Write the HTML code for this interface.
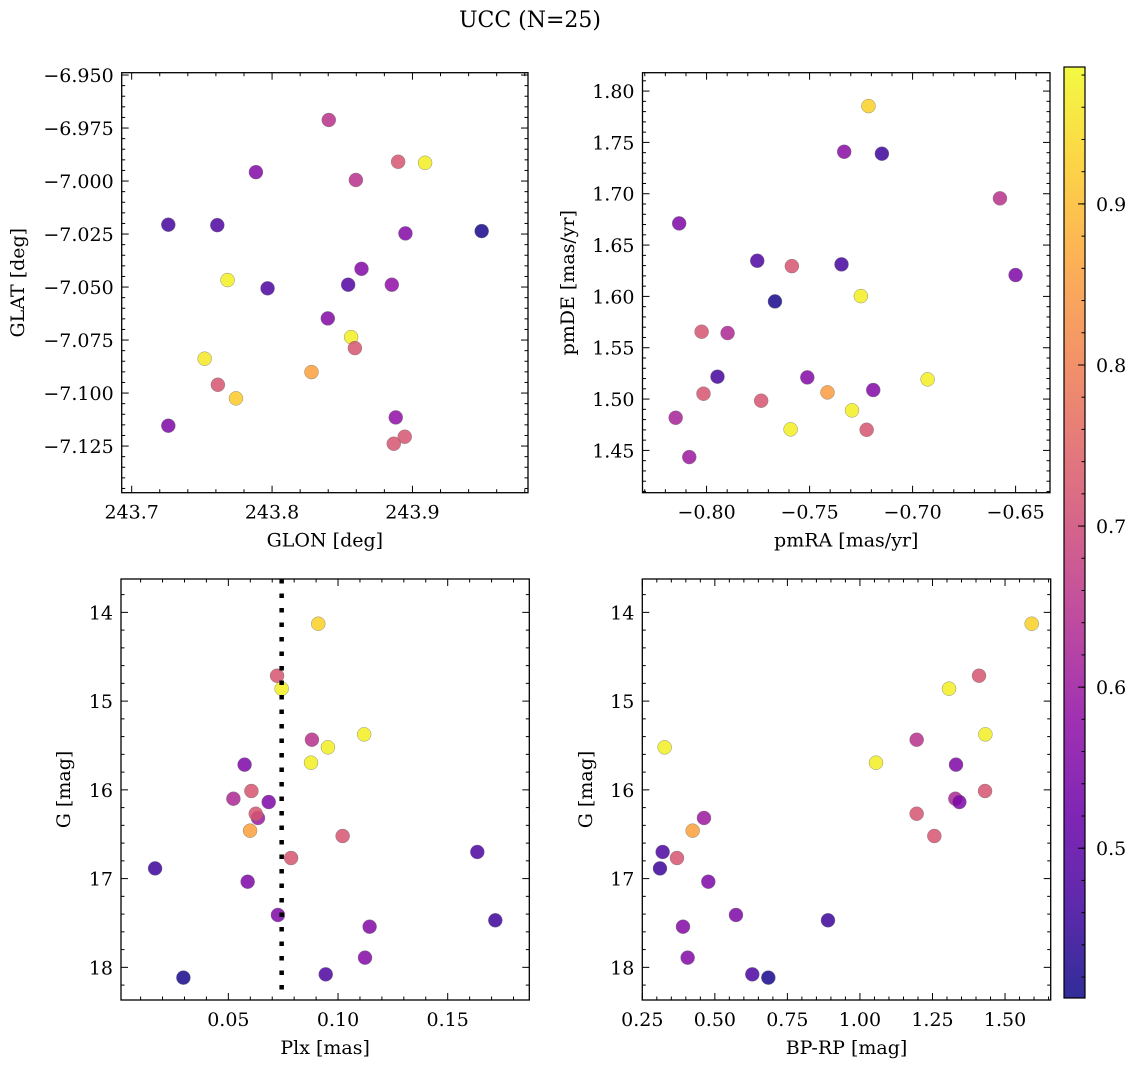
<!DOCTYPE html>
<html><head><meta charset="utf-8"><style>
html,body{margin:0;padding:0;background:#fff;}
svg{display:block;font-family:"DejaVu Serif","Liberation Serif",serif;}
</style></head><body>
<svg id="fig" width="1136" height="1067" viewBox="0 0 1136 1067" xmlns="http://www.w3.org/2000/svg">
<text x="530" y="27" font-size="22" text-anchor="middle">UCC (N=25)</text>
</svg>
<script>
// ---- Top-left: GLON / GLAT
const glon = [243.8404,243.8898,243.9090,243.7885,243.8597,243.7261,243.7610,243.8950,243.9493,243.8637,243.7683,243.7968,243.8542,243.8853,243.8397,243.8563,243.8590,243.7520,243.8281,243.7614,243.7743,243.8881,243.7261,243.8945,243.8867];
const glat = [-6.9712,-6.9909,-6.9914,-6.9958,-6.9995,-7.0206,-7.0208,-7.0247,-7.0236,-7.0414,-7.0467,-7.0506,-7.0489,-7.0489,-7.0648,-7.0736,-7.0788,-7.0838,-7.0901,-7.0961,-7.1025,-7.1115,-7.1154,-7.1206,-7.1239];
const probTop1 = [0.65,0.72,0.97,0.56,0.65,0.47,0.48,0.56,0.42,0.56,0.97,0.48,0.49,0.58,0.56,0.97,0.72,0.96,0.86,0.72,0.92,0.58,0.55,0.72,0.72];
// ---- Top-right: pmRA / pmDE
const pmra = [-0.7214,-0.7332,-0.7149,-0.6576,-0.8133,-0.7754,-0.7586,-0.7345,-0.6500,-0.7251,-0.7668,-0.8024,-0.7898,-0.7947,-0.7511,-0.6927,-0.8015,-0.7413,-0.7191,-0.7735,-0.8150,-0.7294,-0.7592,-0.7223,-0.8084];
const pmde = [1.7854,1.7409,1.7390,1.6955,1.6711,1.6347,1.6295,1.6312,1.6208,1.6003,1.5951,1.5656,1.5643,1.5218,1.5211,1.5192,1.5052,1.5065,1.5088,1.4984,1.4818,1.4890,1.4705,1.4701,1.4435];
const probTop2 = [0.93,0.57,0.46,0.65,0.55,0.48,0.72,0.47,0.55,0.97,0.42,0.72,0.63,0.47,0.56,0.97,0.72,0.85,0.56,0.72,0.62,0.97,0.97,0.72,0.60];
// ---- Bottom: Plx, BP-RP, G
const gmag = [14.128,14.714,14.860,15.375,15.435,15.521,15.694,15.716,16.013,16.100,16.137,16.317,16.269,16.460,16.520,16.700,16.768,16.885,17.035,17.410,17.470,17.542,17.891,18.079,18.116];
const plx = [0.0910,0.0722,0.0743,0.1119,0.0881,0.0954,0.0877,0.0574,0.0605,0.0523,0.0684,0.0635,0.0625,0.0599,0.1021,0.1635,0.0786,0.0166,0.0588,0.0726,0.1717,0.1144,0.1123,0.0944,0.0295];
const bprp = [1.5919,1.4104,1.3070,1.4322,1.1955,0.3270,1.0554,1.3311,1.4311,1.3288,1.3426,0.4625,1.1955,0.4235,1.2564,0.3201,0.3695,0.3109,0.4775,0.5728,0.8899,0.3902,0.4063,0.6291,0.6843];
const probBot = [0.93,0.72,0.97,0.97,0.65,0.97,0.97,0.55,0.72,0.63,0.55,0.60,0.72,0.86,0.72,0.48,0.72,0.46,0.55,0.55,0.46,0.56,0.56,0.48,0.42];
const plxRef = [0.0743];
const cbTicks = [0.5,0.6,0.7,0.8,0.9];

const NS="http://www.w3.org/2000/svg";
const svg=document.getElementById('fig');
const VMIN=0.407, VMAX=0.985;
const FS=19;
const stops=[[13,8,135],[65,4,157],[106,0,168],[143,13,164],[177,42,144],[204,71,120],[225,100,98],[242,132,75],[252,166,54],[252,206,37],[240,249,33]];
function plasma(t){t=Math.max(0,Math.min(1,t));const f=t*10;const i=Math.min(9,Math.floor(f));const r=f-i;const a=stops[i],b=stops[i+1];
 const c=[0,1,2].map(k=>Math.round(a[k]+(b[k]-a[k])*r));return 'rgb('+c.join(',')+')';}
function mk(tag,attrs,parent){const e=document.createElementNS(NS,tag);for(const k in attrs)e.setAttribute(k,attrs[k]);(parent||svg).appendChild(e);return e;}
function fmt(v,d){const s=Math.abs(v).toFixed(d);return (v<-1e-12?'\u2212':'')+s;}

function panel(p){
 const g=mk('g',{});
 
 
 const sx=v=>p.x0+(v-p.xd[0])/(p.xd[1]-p.xd[0])*(p.x1-p.x0);
 const sy=v=>p.y0+(v-p.yd[0])/(p.yd[1]-p.yd[0])*(p.y1-p.y0);
 const tg=mk('g',{stroke:'#000','stroke-width':1},g);
 
 
 const xlo=Math.min(...p.xd),xhi=Math.max(...p.xd),ylo=Math.min(...p.yd),yhi=Math.max(...p.yd);
 for(let k=Math.ceil(xlo/p.xmin-1e-6);k*p.xmin<=xhi+1e-9;k++){const v=k*p.xmin;const X=sx(v);
   const maj=Math.abs(v/p.xmaj-Math.round(v/p.xmaj))<1e-4;const L=maj?7:3.5;
   mk('line',{x1:X,x2:X,y1:p.y1,y2:p.y1-L},tg);mk('line',{x1:X,x2:X,y1:p.y0,y2:p.y0+L},tg);
   if(maj){const t=mk('text',{x:X,y:p.y1+26,'font-size':FS,'text-anchor':'middle',stroke:'none',fill:'#000'},g);t.textContent=fmt(v,p.xdec);
     
     }}
 for(let k=Math.ceil(ylo/p.ymin-1e-6);k*p.ymin<=yhi+1e-9;k++){const v=k*p.ymin;const Y=sy(v);
   const maj=Math.abs(v/p.ymaj-Math.round(v/p.ymaj))<1e-4;const L=maj?7:3.5;
   mk('line',{x1:p.x0,x2:p.x0+L,y1:Y,y2:Y},tg);mk('line',{x1:p.x1,x2:p.x1-L,y1:Y,y2:Y},tg);
   if(maj){const t=mk('text',{x:p.x0-8,y:Y+7,'font-size':FS,'text-anchor':'end',fill:'#000'},g);t.textContent=fmt(v,p.ydec);
     
     }}
 const fr=mk('rect',{x:p.x0,y:p.y0,width:p.x1-p.x0,height:p.y1-p.y0,fill:'none',stroke:'#000','stroke-width':1.3},g);
 
 
 const xl=mk('text',{x:(p.x0+p.x1)/2,y:p.y1+54,'font-size':FS,'text-anchor':'middle'},g);xl.textContent=p.xlab;
 
 
 const yx=p.ylx, yy=(p.y0+p.y1)/2;
 const yl=mk('text',{x:yx,y:yy,'font-size':FS,'text-anchor':'middle',transform:'rotate(-90 '+yx+' '+yy+')'},g);yl.textContent=p.ylab;
 
 
 for(let i=0;i<p.xs.length;i++){
   const c=mk('circle',{cx:sx(p.xs[i]),cy:sy(p.ys[i]),r:7,fill:plasma((p.cs[i]-VMIN)/(VMAX-VMIN)),'fill-opacity':0.85,stroke:'#777','stroke-width':0.4},g);
   
   
 }
 if(p.vline){for(const v of p.vline){const l=mk('line',{x1:sx(v),x2:sx(v),y1:p.y0,y2:p.y1,stroke:'#000','stroke-width':4.5,'stroke-dasharray':'4.5 10'},g);
   
   }}
}

panel({name:'glon-glat-panel',x0:121.7,x1:528,y0:72.7,y1:492.7,xd:[243.6929,243.9823],yd:[-6.9489,-7.147],
  xmaj:0.1,xmin:0.02,ymaj:0.025,ymin:0.005,xdec:1,ydec:3,xlab:'GLON [deg]',ylab:'GLAT [deg]',ylx:24,xs:glon,ys:glat,cs:probTop1});
panel({name:'pm-panel',x0:642.5,x1:1050,y0:72.7,y1:492.7,xd:[-0.8311,-0.6333],yd:[1.8179,1.4088],
  xmaj:0.05,xmin:0.01,ymaj:0.05,ymin:0.01,xdec:2,ydec:2,xlab:'pmRA [mas/yr]',ylab:'pmDE [mas/yr]',ylx:574,xs:pmra,ys:pmde,cs:probTop2});
panel({name:'plx-g-panel',x0:121,x1:529.3,y0:579,y1:1000,xd:[0.00106,0.1872],yd:[13.624,18.368],
  xmaj:0.05,xmin:0.01,ymaj:1,ymin:0.2,xdec:2,ydec:0,xlab:'Plx [mas]',ylab:'G [mag]',ylx:70,xs:plx,ys:gmag,cs:probBot,vline:plxRef});
panel({name:'cmd-panel',x0:642.3,x1:1050.7,y0:579,y1:1000,xd:[0.25,1.6574],yd:[13.624,18.368],
  xmaj:0.25,xmin:0.05,ymaj:1,ymin:0.2,xdec:2,ydec:0,xlab:'BP-RP [mag]',ylab:'G [mag]',ylx:592,xs:bprp,ys:gmag,cs:probBot});

(function(){
 const x0=1064,x1=1085,y0=67,y1=998;
 const cb=mk('g',{});
 
 
 const defs=mk('defs',{},cb);
 const lg=mk('linearGradient',{id:'cbg',x1:0,y1:1,x2:0,y2:0},defs);
 for(let i=0;i<=20;i++){mk('stop',{offset:(i/20),'stop-color':plasma(i/20),'stop-opacity':0.85},lg);}
 mk('rect',{x:x0,y:y0,width:x1-x0,height:y1-y0,fill:'url(#cbg)'},cb);
 const sy=v=>y1-(v-VMIN)/(VMAX-VMIN)*(y1-y0);
 for(let k=Math.ceil(VMIN/0.02);k*0.02<=VMAX;k++){const Y=sy(k*0.02);mk('line',{x1:x1,x2:x1-3.5,y1:Y,y2:Y,stroke:'#000','stroke-width':1},cb);}
 for(const v of cbTicks){const Y=sy(v);mk('line',{x1:x1,x2:x1-7,y1:Y,y2:Y,stroke:'#000','stroke-width':1},cb);
   const t=mk('text',{x:x1+11,y:Y+7,'font-size':FS},cb);t.textContent=v.toFixed(1);
   
   }
 mk('rect',{x:x0,y:y0,width:x1-x0,height:y1-y0,fill:'none',stroke:'#000','stroke-width':1.2},cb);
})();
</script>
</body></html>
